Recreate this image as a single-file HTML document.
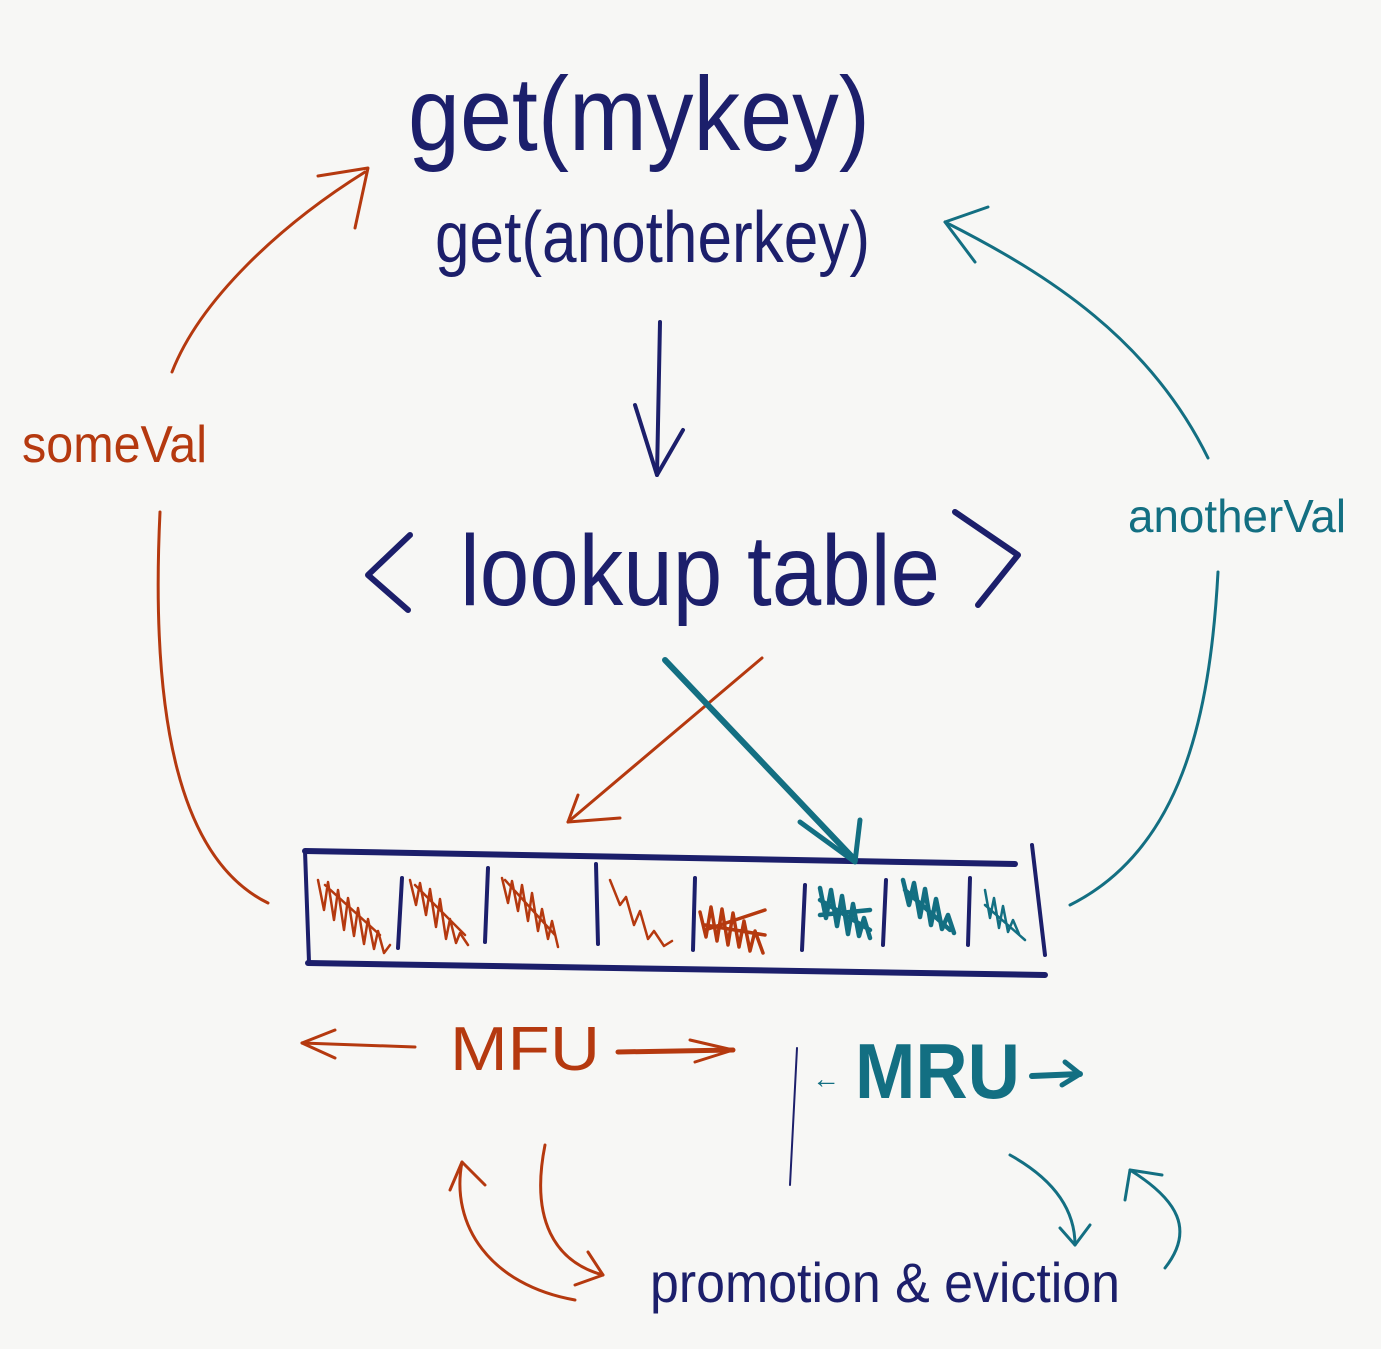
<!DOCTYPE html>
<html><head><meta charset="utf-8"><style>
html,body{margin:0;padding:0;background:#f7f7f5;}
svg{display:block}
text{font-family:"Liberation Sans",sans-serif;}
</style></head><body>
<svg width="1381" height="1349" viewBox="0 0 1381 1349" xmlns="http://www.w3.org/2000/svg">
<rect width="1381" height="1349" fill="#f7f7f5"/>
<g fill="none" stroke-linecap="round" stroke-linejoin="round">
<g stroke="#1c1f6b" stroke-width="4">
<path d="M660,322 L657,475"/>
<path d="M635,405 L657,475 L683,430"/>
<path d="M410,535 L368,575 L408,610" stroke-width="6"/>
<path d="M955,512 L1018,555 L978,605" stroke-width="6"/>
<path d="M305,851 L1015,864" stroke-width="6"/>
<path d="M308,963 L1045,975" stroke-width="6"/>
<path d="M305,851 L309,962"/>
<path d="M1032,845 L1045,955"/>
<path d="M402,878 L398,948"/><path d="M488,868 L485,942"/><path d="M596,864 L598,944"/>
<path d="M695,878 L693,950"/><path d="M805,885 L802,950"/><path d="M886,880 L883,945"/><path d="M970,878 L968,945"/>
<path d="M797,1048 L790,1185" stroke-width="2"/>
</g>
<g stroke="#b5390f" stroke-width="3">
<path d="M762,658 L568,822"/>
<path d="M578,795 L568,822 L620,818"/>
<path d="M268,903 C180,860 150,720 160,512"/>
<path d="M172,372 C200,300 280,225 365,172"/>
<path d="M318,176 L368,168 L355,228"/>
<path d="M415,1047 L302,1043"/><path d="M335,1030 L302,1043 L335,1058"/>
<path d="M618,1052 L733,1050" stroke-width="5"/><path d="M690,1040 L733,1050 L695,1062"/>
<path d="M545,1145 C530,1220 555,1262 603,1275"/><path d="M588,1252 L603,1275 L575,1285"/>
<path d="M575,1300 C490,1285 450,1225 462,1162"/><path d="M450,1190 L462,1162 L485,1185"/>
<path d="M318,880 l6,30 l4,-28 l6,38 l4,-30 l6,40 l4,-32 l6,38 l4,-28 l6,36 l4,-25 l6,30 l4,-18 l6,22 l6,-8 M325,885 l55,50" stroke-width="2.5"/>
<path d="M410,880 l6,25 l4,-22 l6,32 l4,-26 l6,38 l4,-28 l6,40 l4,-20 l6,24 l4,-10 l8,12 M415,885 l50,50" stroke-width="2.5"/>
<path d="M502,878 l6,25 l4,-22 l6,30 l4,-26 l6,36 l4,-28 l6,38 l4,-22 l6,30 l4,-18 l6,26 M505,880 l50,55" stroke-width="2.5"/>
<path d="M610,880 l10,25 l6,-8 l8,28 l6,-14 l8,28 l6,-8 l10,15 l8,-5" stroke-width="2.5"/>
<path d="M700,912 l6,25 l5,-30 l6,34 l5,-32 l6,36 l5,-32 l6,34 l5,-26 l6,30 l5,-20 l8,22 M705,930 l60,-20 M705,925 l60,10" stroke-width="3.5"/>
</g>
<g stroke="#136f82" stroke-width="3">
<path d="M665,660 L855,860" stroke-width="6"/>
<path d="M800,822 L855,862 L860,820" stroke-width="5"/>
<path d="M1070,905 C1180,850 1210,720 1218,572"/>
<path d="M1208,458 C1150,340 1050,275 945,222"/>
<path d="M988,207 L945,222 L975,262"/>
<path d="M1032,1076 L1080,1074" stroke-width="6"/><path d="M1065,1062 L1080,1074 L1062,1085" stroke-width="5"/>
<path d="M1010,1155 C1055,1180 1075,1210 1075,1245"/><path d="M1060,1228 L1075,1245 L1090,1225"/>
<path d="M1165,1268 C1195,1230 1178,1200 1130,1170"/><path d="M1125,1200 L1130,1170 L1162,1175"/>
<path d="M820,888 l6,30 l5,-28 l6,36 l5,-30 l6,38 l5,-30 l6,32 l5,-18 l6,20 M820,900 l50,30 M820,915 l50,-5" stroke-width="4.5"/>
<path d="M903,880 l6,25 l5,-22 l6,34 l5,-28 l6,36 l5,-26 l6,30 l6,-14 l6,18 M905,890 l45,40" stroke-width="4.5"/>
<path d="M985,890 l5,28 l4,-20 l5,30 l4,-22 l5,26 l5,-12 l6,14 M985,905 l40,35" stroke-width="2.5"/>
</g>
</g>
<g font-family="Liberation Sans, sans-serif">
<text x="408" y="150" font-size="105" fill="#1c1f6b" textLength="462" lengthAdjust="spacingAndGlyphs">get(mykey)</text>
<text x="435" y="262" font-size="72" fill="#1c1f6b" textLength="435" lengthAdjust="spacingAndGlyphs">get(anotherkey)</text>
<text x="460" y="605" font-size="100" fill="#1c1f6b" textLength="480" lengthAdjust="spacingAndGlyphs">lookup table</text>
<text x="22" y="462" font-size="52" fill="#b5390f" textLength="185" lengthAdjust="spacingAndGlyphs">someVal</text>
<text x="1128" y="532" font-size="46" fill="#136f82" textLength="218" lengthAdjust="spacingAndGlyphs">anotherVal</text>
<text x="450" y="1070" font-size="62" fill="#b5390f" textLength="150" lengthAdjust="spacingAndGlyphs">MFU</text>
<text x="812" y="1088" font-size="28" fill="#136f82">←</text>
<text x="855" y="1098" font-size="78" font-weight="bold" fill="#136f82" textLength="165" lengthAdjust="spacingAndGlyphs">MRU</text>
<text x="650" y="1302" font-size="56" fill="#1c1f6b" textLength="470" lengthAdjust="spacingAndGlyphs">promotion &amp; eviction</text>
</g>
</svg>
</body></html>
